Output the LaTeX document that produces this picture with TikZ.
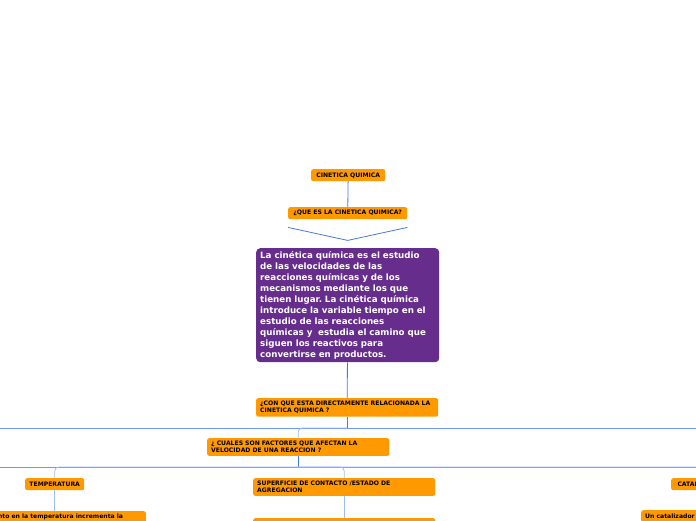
\documentclass[tikz,border=0pt]{standalone}
\usepackage{fontspec}
\newfontfamily\mapafont{DejaVu Sans}
\usetikzlibrary{calc}
\definecolor{naranja}{RGB}{255,153,0}
\definecolor{morado}{RGB}{103,45,141}
\definecolor{azulfuerte}{RGB}{66,120,232}
\definecolor{azulmedio}{RGB}{110,150,250}
\definecolor{azulclaro}{RGB}{160,188,255}
\frenchspacing
\tikzset{
    caja/.style={
        fill=naranja, rounded corners=2pt, text=black,
        font=\mapafont\bfseries\fontsize{6.1}{7}\selectfont,
        inner xsep=4pt, inner ysep=2pt, minimum height=12pt,
        anchor=north west
    },
    cajalarga/.style={
        caja, text width=174pt, align=left, inner ysep=3pt
    },
    cajamorada/.style={
        fill=morado, rounded corners=4pt, text=white,
        font=\mapafont\bfseries\fontsize{8.7}{11}\selectfont,
        text width=175pt, align=left, inner xsep=4pt, inner ysep=3pt,
        minimum height=114pt, anchor=north west
    },
    conector/.style={azulfuerte, line width=0.8pt},
    bus/.style={azulmedio, line width=0.8pt},
    rama/.style={azulclaro, line width=0.8pt, rounded corners=4pt}
}
\begin{document}
\begin{tikzpicture}[x=1pt,y=-1pt]
                \path[use as bounding box, clip] (0,0) rectangle (696,520);
                \coordinate (busA izq) at (-10,428);
                \coordinate (busA der) at (706,428);
                \coordinate (busB izq) at (-10,467);
                \coordinate (busB der) at (706,467);
                \node[caja, minimum width=74pt] (tema) at (311,169) {CINETICA QUIMICA};
                \node[caja, minimum width=119pt] (pregunta) at (288,207) {¿QUE ES LA CINETICA QUIMICA?};
                \node[cajamorada] (definicion) at (256,248) {La cinética química es el estudio\\
                    de las velocidades de las\\
                    reacciones químicas y de los\\
                    mecanismos mediante los que\\
                    tienen lugar. La cinética química\\
                    introduce la variable tiempo en el\\
                    estudio de las reacciones\\
                    químicas y \ estudia el camino que\\
                    siguen los reactivos para\\
                    convertirse en productos.};
                \node[cajalarga] (relacion) at (256,398) {¿CON QUE ESTA DIRECTAMENTE RELACIONADA LA\\ CINETICA QUIMICA ?};
                \node[cajalarga] (factores) at (207,438) {¿ CUALES SON FACTORES QUE AFECTAN LA\\ VELOCIDAD DE UNA REACCION ?};
                \node[caja, minimum width=59pt] (temperatura) at (25,478) {TEMPERATURA};
                \node[cajalarga] (superficie) at (253,478) {SUPERFICIE DE CONTACTO /ESTADO DE\\ AGREGACION};
                \node[caja, minimum width=60pt] (catalizador) at (671,478) {CATALIZADOR};
                \node[cajalarga, anchor=north east] (aumento) at (146,511) {Un aumento en la temperatura incrementa la};
                \node[cajalarga, minimum height=20pt] (agregacion) at (253,518) {};
                \node[cajalarga] (uncatalizador) at (641,510) {Un catalizador};
                \draw[conector] (tema) -- (pregunta);
                \draw[conector] ($(pregunta.south west)+(0,8)$) -- ($(pregunta.south)+(0,21)$) -- ($(pregunta.south east)+(0,8)$);
                \draw[conector] (definicion) -- (relacion);
                \draw[bus] (busA izq) -- (busA der);
                \draw[conector] (relacion.south) -- (relacion.south |- busA izq);
                \draw[rama] (relacion.south |- busA izq) -| (factores.north);
                \draw[bus] (busB izq) -- (busB der);
                \draw[conector] (factores.south) -- (factores.south |- busB izq);
                \draw[rama] (factores.south |- busB izq) -| (temperatura.north);
                \draw[rama] (factores.south |- busB izq) -| (superficie.north);
                \draw[rama] (factores.south |- busB izq) -| (catalizador.north);
                \draw[rama] (temperatura.south) -- (temperatura.south |- aumento.north);
                \draw[rama] (superficie.south) -- (agregacion.north);
                \draw[rama] (catalizador.south) -- (catalizador.south |- uncatalizador.north);
            \end{tikzpicture}
\end{document}
